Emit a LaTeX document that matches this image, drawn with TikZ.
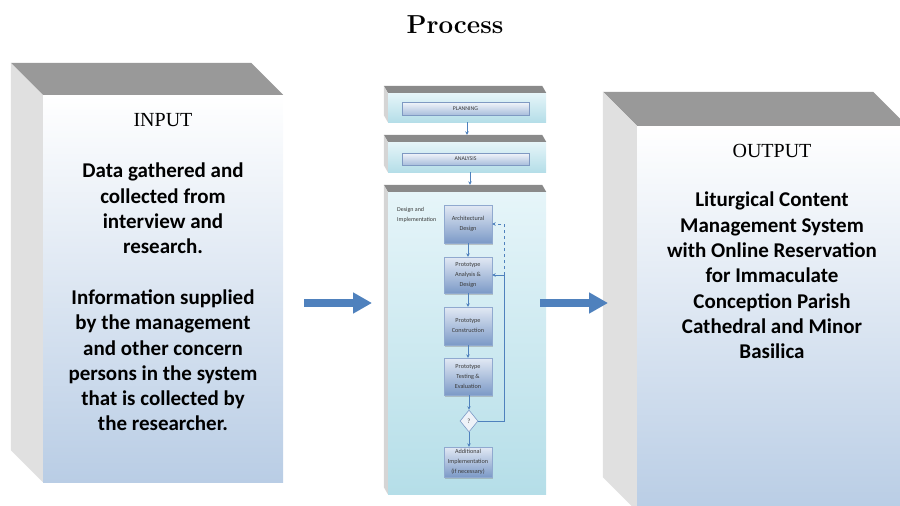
\documentclass[tikz,border=0pt]{standalone}
\usepackage{fontspec}
\newfontfamily\calib{Carlito}
\newfontfamily\tnr{Liberation Serif}
\usetikzlibrary{shapes.geometric,arrows.meta,shadows}
\definecolor{faceGray}{HTML}{999999}
\definecolor{sideGray}{HTML}{E0E0E0}
\definecolor{bigBlue}{HTML}{B9CDE5}
\definecolor{cyanTop}{HTML}{E6F5F9}
\definecolor{cyanBot}{HTML}{B5DEE8}
\definecolor{barTop}{HTML}{F2F5FA}
\definecolor{barBot}{HTML}{A9BEDC}
\definecolor{barLine}{HTML}{7F99C2}
\definecolor{flowTop}{HTML}{E2E9F4}
\definecolor{flowBot}{HTML}{7C9AC7}
\definecolor{arrowBlue}{HTML}{4F81BD}
\definecolor{smallText}{HTML}{3A3A3A}
\tikzset{
  bigface/.style={inner sep=0pt, top color=white, bottom color=bigBlue, draw=none},
  topface/.style={fill=faceGray},
  sideface/.style={fill=sideGray},
  cyanface/.style={inner sep=0pt, top color=cyanTop, bottom color=cyanBot, draw=none},
  smalltop/.style={fill=faceGray!90!black},
  smallside/.style={fill=sideGray!95!black},
  barbox/.style={inner sep=0pt, minimum width=127pt, top color=barTop, bottom color=barBot,
    draw=barLine, line width=0.4pt, font=\calib\fontsize{5.8}{6}\selectfont, text=smallText,
    drop shadow={opacity=0.4, shadow xshift=0.8pt, shadow yshift=-1.2pt}},
  flowbox/.style={inner sep=0pt, minimum width=48pt, top color=flowTop, bottom color=flowBot,
    draw=flowBot!85!white, line width=0.4pt, align=center,
    font=\calib\fontsize{6.2}{10}\selectfont, text=smallText,
    drop shadow={opacity=0.4, shadow xshift=1.2pt, shadow yshift=-1.5pt}},
  decision/.style={diamond, inner sep=0pt, minimum width=18pt, minimum height=22pt,
    fill=flowTop!60!white, draw=flowBot, line width=0.6pt, font=\calib\fontsize{6.5}{7}\selectfont, text=smallText},
  flowarrow/.style={draw=arrowBlue, line width=0.9pt, -{Stealth[length=3.5pt,width=3.5pt]}},
  bigarrow/.style={draw=arrowBlue, line width=8pt, -{Triangle[length=19pt,width=20pt]}},
  bodytext/.style={align=center, inner sep=0pt, font=\calib\bfseries\fontsize{21}{25.3}\selectfont},
  labeltext/.style={inner sep=0pt, font=\tnr\fontsize{20}{24}\selectfont},
}
\begin{document}
\begin{tikzpicture}[x=1pt,y=-1pt]
\useasboundingbox (0,0) rectangle (900,506);
\begin{scope}
\clip (0,0) rectangle (900,506);

% title
\node[anchor=base, inner sep=0pt, font=\fontsize{26}{30}\selectfont\bfseries] (title) at (455,33) {Process};

% INPUT box
\node[bigface, minimum width=240pt, minimum height=387pt] (inbox) at (163,288.5) {};
\fill[topface] (inbox.north west) -- ++(-32,-32) -- ([shift={(-32pt,32pt)}]inbox.north east) -- (inbox.north east) -- cycle;
\fill[sideface] (inbox.north west) -- ++(-32,-32) -- ([shift={(-32pt,32pt)}]inbox.south west) -- (inbox.south west) -- cycle;
\node[labeltext, anchor=base] (inlabel) at (163,126) {INPUT};
\node[bodytext, anchor=north] (intext) at (163,163) {Data gathered and\\collected from\\interview and\\research.\\[25.3pt]Information supplied\\by the management\\and other concern\\persons in the system\\that is collected by\\the researcher.};

% OUTPUT box
\node[bigface, minimum width=270pt, minimum height=385pt] (outbox) at (772,318.5) {};
\fill[topface] (outbox.north west) -- ++(-34,-34) -- ([shift={(-34pt,34pt)}]outbox.north east) -- (outbox.north east) -- cycle;
\fill[sideface] (outbox.north west) -- ++(-34,-34) -- ([shift={(-34pt,34pt)}]outbox.south west) -- (outbox.south west) -- cycle;
\node[labeltext, anchor=base] (outlabel) at (772,157) {OUTPUT};
\node[bodytext, anchor=north] (outtext) at (772,192) {Liturgical Content\\Management System\\with Online Reservation\\for Immaculate\\Conception Parish\\Cathedral and Minor\\Basilica};

% middle: planning
\node[cyanface, minimum width=158pt, minimum height=29pt] (planbox) at (467,107.5) {};
\fill[smalltop] (planbox.north west) -- ++(-4,-7) -- ([shift={(-4pt,7pt)}]planbox.north east) -- (planbox.north east) -- cycle;
\fill[smallside] (planbox.north west) -- ++(-4,-7) -- ([shift={(-4pt,7pt)}]planbox.south west) -- (planbox.south west) -- cycle;
\node[barbox, minimum height=13pt] (planbar) at (465.5,108.5) {PLANNING};

% analysis
\node[cyanface, minimum width=158pt, minimum height=30pt] (anabox) at (467,157) {};
\fill[smalltop] (anabox.north west) -- ++(-4,-7) -- ([shift={(-4pt,7pt)}]anabox.north east) -- (anabox.north east) -- cycle;
\fill[smallside] (anabox.north west) -- ++(-4,-7) -- ([shift={(-4pt,7pt)}]anabox.south west) -- (anabox.south west) -- cycle;
\node[barbox, minimum height=12pt] (anabar) at (465.5,159) {ANALYSIS};

% design and implementation
\node[cyanface, minimum width=158pt, minimum height=302pt] (desbox) at (467,343) {};
\fill[smalltop] (desbox.north west) -- ++(-4,-7) -- ([shift={(-4pt,7pt)}]desbox.north east) -- (desbox.north east) -- cycle;
\fill[smallside] (desbox.north west) -- ++(-4,-7) -- ([shift={(-4pt,7pt)}]desbox.south west) -- (desbox.south west) -- cycle;
\node[anchor=north west, inner sep=0pt, align=left, font=\calib\fontsize{6}{10}\selectfont, text=smallText] (deslabel) at (397,207) {Design and\\Implementation};

\draw[flowarrow] (planbox.south) -- ([yshift=7pt]anabox.north);
\draw[flowarrow] ([xshift=3pt]anabox.south) -- ([xshift=3pt,yshift=7pt]desbox.north);

\node[flowbox, minimum height=38pt] (arch) at (468,224) {Architectural\\Design};
\node[flowbox, minimum height=36pt] (pad) at (468,275) {Prototype\\Analysis \&\\Design};
\node[flowbox, minimum height=38pt] (pc) at (468,326) {Prototype\\Construction};
\node[flowbox, minimum height=37pt] (pte) at (468,376.5) {Prototype\\Testing \&\\Evaluation};
\node[decision] (dia) at (469,421) {?};
\node[flowbox, minimum height=30pt] (ai) at (468,462) {Additional\\Implementation\\(if necessary)};

\draw[flowarrow] (arch) -- (pad);
\draw[flowarrow] (pad) -- (pc);
\draw[flowarrow] (pc) -- (pte);
\draw[flowarrow] (pte.south -| dia) -- (dia.north);
\draw[flowarrow] (dia.south) -- (ai.north -| dia);
\coordinate (loopx) at (504,0);
\draw[flowarrow] (dia.east) -- (dia.east -| loopx) |- (pad.east);
\draw[flowarrow, line width=0.6pt, dashed] (pad.east -| loopx) |- (arch.east);

% big arrows
\coordinate (la1) at (304,303);
\coordinate (la2) at (372,303);
\coordinate (ra1) at (540,303);
\coordinate (ra2) at (608,303);
\draw[bigarrow] (la1) -- (la2);
\draw[bigarrow] (ra1) -- (ra2);
\end{scope}
\end{tikzpicture}
\end{document}
